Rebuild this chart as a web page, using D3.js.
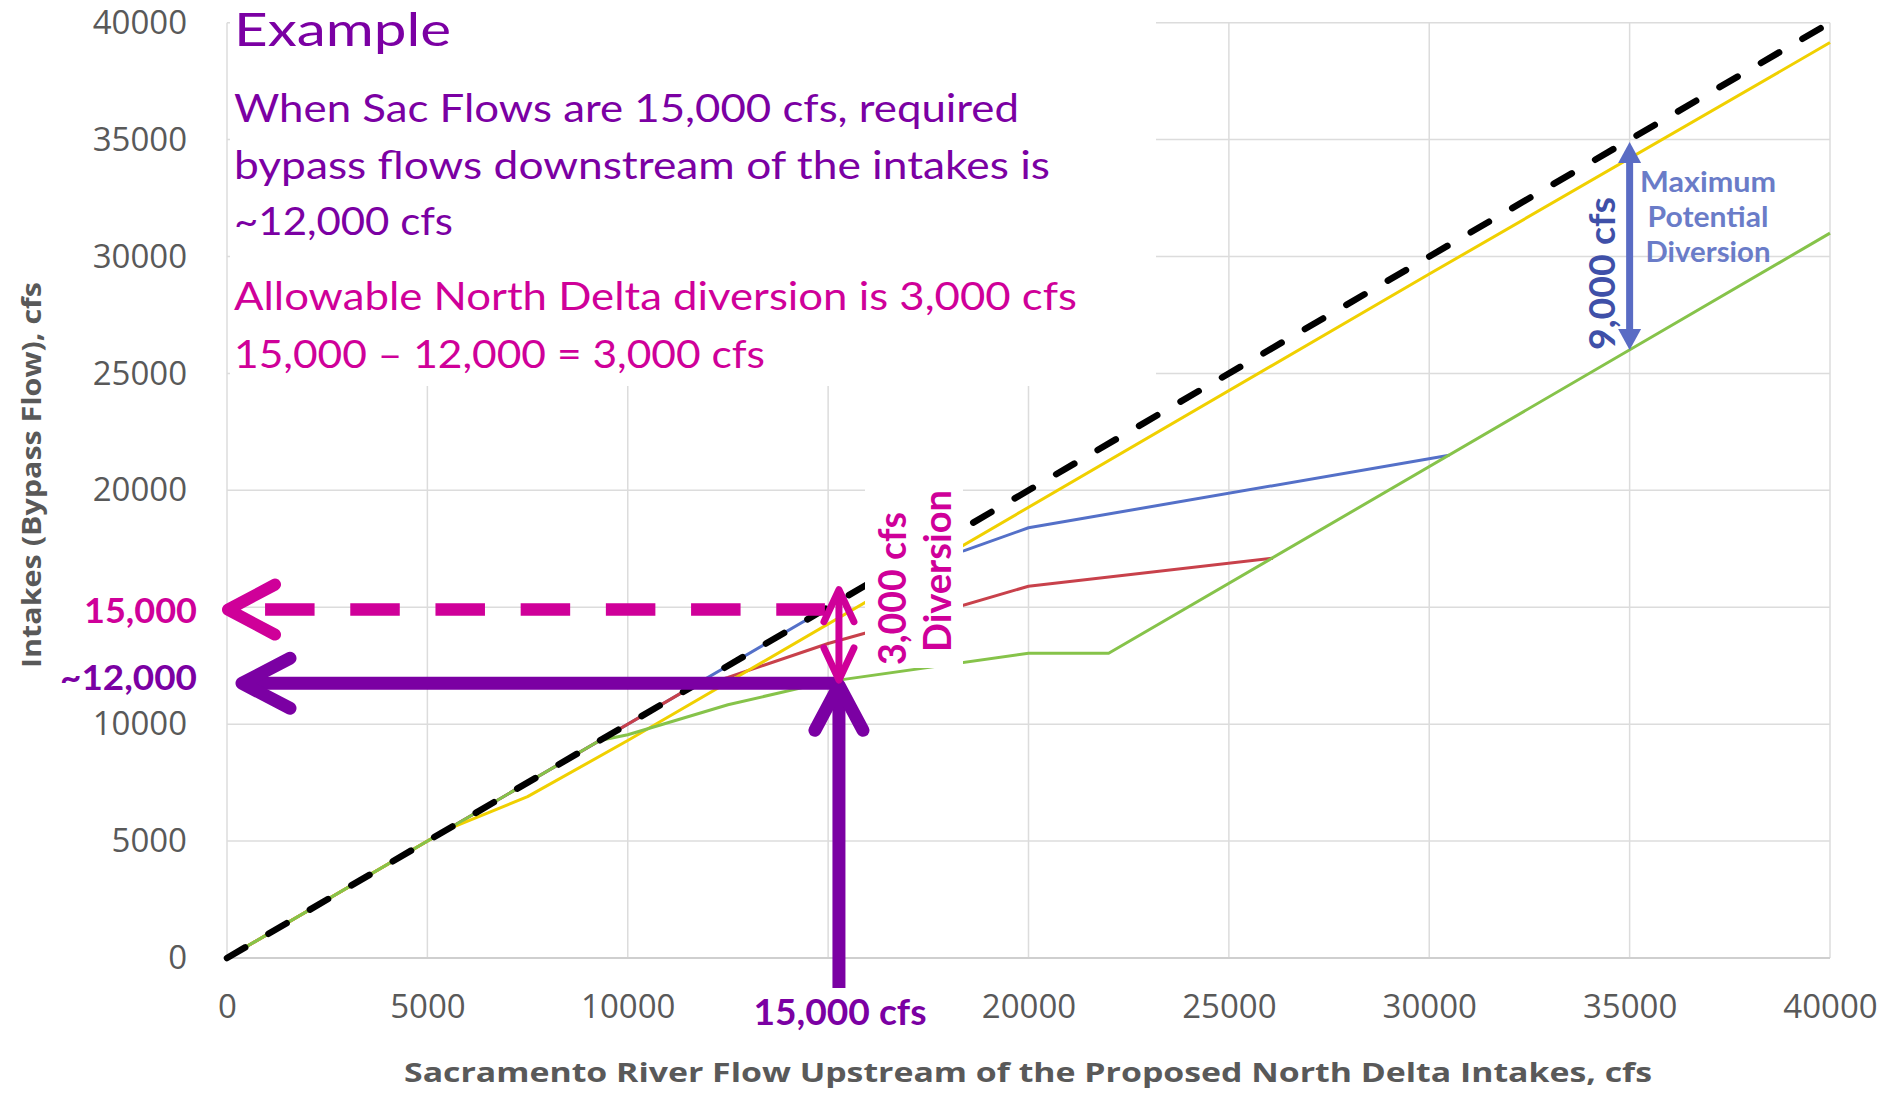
<!DOCTYPE html>
<html><head><meta charset="utf-8">
<script src="https://cdn.jsdelivr.net/npm/d3@7"></script>
<style>html,body{margin:0;padding:0;background:#fff;} svg{display:block;}</style>
</head><body><svg id="c" width="1902" height="1094"></svg>
<script>
// ---------- data ----------
const xTicks = [0,5000,10000,15000,20000,25000,30000,35000,40000];
const yTicks = [0,5000,10000,15000,20000,25000,30000,35000,40000];
// tick labels shown (15000 is replaced by the annotation labels)
const xTickLabels = [0,5000,10000,20000,25000,30000,35000,40000];
const yTickLabels = [0,5000,10000,20000,25000,30000,35000,40000];
const diagonalSeries = [[0,0],[40000,40000]];
const blueSeries   = [[0,0],[16500,16500],[18400,17420],[20000,18400],[30500,21500]];
const redSeries    = [[0,0],[11500,11500],[12500,12000],[15000,13450],[17500,14650],[20000,15900],[26100,17100]];
const greenSeries  = [[0,0],[9300,9300],[10000,9550],[12500,10830],[15000,11820],[20000,13030],[22000,13030],[40000,31000]];
const yellowSeries = [[0,0],[5500,5500],[7500,6900],[10000,9300],[30000,29250],[40000,39150]];

const xTitle = "Sacramento River Flow Upstream of the Proposed North Delta Intakes, cfs";
const yTitle = "Intakes (Bypass Flow), cfs";
const noteTitle = "Example";
const noteLinesPurple = ["When Sac Flows are 15,000 cfs, required","bypass flows downstream of the intakes is","~12,000 cfs"];
const noteLinesMagenta = ["Allowable North Delta diversion is 3,000 cfs","15,000 \u2013 12,000 = 3,000 cfs"];
const sacFlowLabel = "15,000 cfs";
const flowLabel = "15,000";
const bypassLabel = "~12,000";
const divLabel = ["3,000 cfs","Diversion"];
const maxLabel = "9,000 cfs";
const maxText = ["Maximum","Potential","Diversion"];

// annotation values (cfs)
const sacFlow = 15270, bypassFlow = 11750, flowLevel = 14900;
const dashFrom = 950, dashTo = 14920;
const divTop = 15750, divBottom = 11890;
const maxX = 35000, maxTop = 34900, maxBottom = 26000;

// ---------- drawing ----------
const svg = d3.select("#c");
svg.append("rect").attr("width",1902).attr("height",1094).attr("fill","#fff");
const x = d3.scaleLinear().domain([0,40000]).range([227,1830]);
const y = d3.scaleLinear().domain([0,40000]).range([958,22.7]);

const PURPLE = "#7b00a3", MAGENTA = "#cf0099", GREY = "#595959";
const calibri = "Lato, 'Open Sans', sans-serif";

// gridlines
const grid = svg.append("g");
grid.selectAll(".v").data(xTicks).join("line")
  .attr("x1",d=>x(d)).attr("x2",d=>x(d)).attr("y1",y(40000)).attr("y2",y(0))
  .attr("stroke","#dcdcdc").attr("stroke-width",1.5);
grid.selectAll(".h").data(yTicks).join("line")
  .attr("x1",x(0)).attr("x2",x(40000)).attr("y1",d=>y(d)).attr("y2",d=>y(d))
  .attr("stroke",d=>d===0?"#cfcfcf":"#dcdcdc").attr("stroke-width",d=>d===0?2:1.5);

// axes
const ax = svg.append("g").attr("transform",`translate(0,${y(0)})`)
  .call(d3.axisBottom(x).tickValues(xTickLabels).tickSize(0).tickPadding(37).tickFormat(d3.format("d")));
const ay = svg.append("g").attr("transform",`translate(${x(0)},0)`)
  .call(d3.axisLeft(y).tickValues(yTickLabels).tickSize(0).tickPadding(40).tickFormat(d3.format("d")));
[ax,ay].forEach(g=>{
  g.select(".domain").remove();
  g.selectAll("text").attr("font-family","'Open Sans', sans-serif").attr("font-size",33).attr("fill",GREY);
});

// titles
svg.append("text").attr("x",1028).attr("y",1082).attr("text-anchor","middle")
  .attr("font-family","'Open Sans', sans-serif").attr("font-weight","bold").attr("font-size",27)
  .attr("fill",GREY).attr("textLength",1248).attr("lengthAdjust","spacingAndGlyphs").text(xTitle);
svg.append("text").attr("transform","translate(41,475) rotate(-90)").attr("text-anchor","middle")
  .attr("font-family","'Open Sans', sans-serif").attr("font-weight","bold").attr("font-size",27)
  .attr("fill",GREY).attr("textLength",386).attr("lengthAdjust","spacingAndGlyphs").text(yTitle);

// series lines
const line = d3.line().x(d=>x(d[0])).y(d=>y(d[1]));
const plot = svg.append("g").attr("fill","none").attr("stroke-linejoin","round");
plot.append("path").datum(blueSeries).attr("d",line).attr("stroke","#5470c8").attr("stroke-width",3);
plot.append("path").datum(redSeries).attr("d",line).attr("stroke","#c8414b").attr("stroke-width",3);
plot.append("path").datum(yellowSeries).attr("d",line).attr("stroke","#f0d000").attr("stroke-width",3);
plot.append("path").datum(greenSeries).attr("d",line).attr("stroke","#86c34a").attr("stroke-width",3);
plot.append("path").datum(diagonalSeries).attr("d",line).attr("stroke","#000").attr("stroke-width",6.5)
  .attr("stroke-dasharray","21 27").attr("stroke-linecap","round");

// white boxes
svg.append("rect").attr("x",230).attr("y",0).attr("width",926).attr("height",386).attr("fill","#fff");
svg.append("rect").attr("x",865).attr("y",488).attr("width",98).attr("height",180).attr("fill","#fff");
svg.append("rect").attr("x",60).attr("y",585).attr("width",145).attr("height",50).attr("fill","#fff");

// note text
svg.append("text").attr("x",234).attr("y",46).attr("font-family",calibri).attr("font-size",46)
  .attr("fill",PURPLE).attr("textLength",217).attr("lengthAdjust","spacingAndGlyphs").text(noteTitle);
const purpleLens = [785,816,219], purpleY = [122,178.5,235];
noteLinesPurple.forEach((t,i)=>svg.append("text").attr("x",234).attr("y",purpleY[i])
  .attr("font-family",calibri).attr("font-size",38).attr("fill",PURPLE)
  .attr("textLength",purpleLens[i]).attr("lengthAdjust","spacingAndGlyphs").text(t));
const magLens = [843,531], magY = [310,368];
noteLinesMagenta.forEach((t,i)=>svg.append("text").attr("x",234).attr("y",magY[i])
  .attr("font-family",calibri).attr("font-size",38).attr("fill",MAGENTA)
  .attr("textLength",magLens[i]).attr("lengthAdjust","spacingAndGlyphs").text(t));

// magenta dashed level line with left chevron
const ann = svg.append("g").attr("fill","none").attr("stroke-linecap","round").attr("stroke-linejoin","round");
ann.append("line").attr("x1",x(dashFrom)).attr("x2",x(dashTo)).attr("y1",y(flowLevel)).attr("y2",y(flowLevel))
  .attr("stroke",MAGENTA).attr("stroke-width",12.5).attr("stroke-dasharray","49.5 35.7").attr("stroke-linecap","butt");
ann.append("path").attr("d",`M${x(0)+48},${y(flowLevel)-25} L${x(0)+1},${y(flowLevel)} L${x(0)+48},${y(flowLevel)+25}`)
  .attr("stroke",MAGENTA).attr("stroke-width",12);

// purple horizontal arrow
ann.append("line").attr("x1",x(0)+18).attr("x2",x(sacFlow)).attr("y1",y(bypassFlow)).attr("y2",y(bypassFlow))
  .attr("stroke",PURPLE).attr("stroke-width",13).attr("stroke-linecap","butt");
ann.append("path").attr("d",`M${x(0)+63},${y(bypassFlow)-25} L${x(0)+15},${y(bypassFlow)} L${x(0)+63},${y(bypassFlow)+25}`)
  .attr("stroke",PURPLE).attr("stroke-width",13);
// purple vertical arrow
ann.append("line").attr("x1",x(sacFlow)).attr("x2",x(sacFlow)).attr("y1",y(bypassFlow)+4).attr("y2",988)
  .attr("stroke",PURPLE).attr("stroke-width",13).attr("stroke-linecap","butt");
ann.append("path").attr("d",`M${x(sacFlow)-24},${y(bypassFlow)+47} L${x(sacFlow)},${y(bypassFlow)+2} L${x(sacFlow)+24},${y(bypassFlow)+47}`)
  .attr("stroke",PURPLE).attr("stroke-width",13);

// magenta double arrow
ann.append("line").attr("x1",x(sacFlow)).attr("x2",x(sacFlow)).attr("y1",y(divTop)+2).attr("y2",y(divBottom)-2)
  .attr("stroke",MAGENTA).attr("stroke-width",7);
ann.append("path").attr("d",`M${x(sacFlow)-15},${y(divTop)+32} L${x(sacFlow)},${y(divTop)} L${x(sacFlow)+15},${y(divTop)+32}`)
  .attr("stroke",MAGENTA).attr("stroke-width",7);
ann.append("path").attr("d",`M${x(sacFlow)-15},${y(divBottom)-32} L${x(sacFlow)},${y(divBottom)} L${x(sacFlow)+15},${y(divBottom)-32}`)
  .attr("stroke",MAGENTA).attr("stroke-width",7);

// blue max diversion arrow
const bx = x(maxX), bt = y(maxTop), bb = y(maxBottom);
svg.append("line").attr("x1",bx).attr("x2",bx).attr("y1",bt+15).attr("y2",bb-15).attr("stroke","#5a6cc4").attr("stroke-width",7);
svg.append("path").attr("d",`M${bx},${bt} L${bx-11.5},${bt+21} L${bx+11.5},${bt+21} Z`).attr("fill","#5a6cc4");
svg.append("path").attr("d",`M${bx},${bb} L${bx-11.5},${bb-21} L${bx+11.5},${bb-21} Z`).attr("fill","#5a6cc4");

// labels
svg.append("text").attr("x",197).attr("y",623).attr("text-anchor","end").attr("font-family",calibri)
  .attr("font-weight","bold").attr("font-size",35).attr("fill",MAGENTA)
  .attr("textLength",113).attr("lengthAdjust","spacingAndGlyphs").text(flowLabel);
svg.append("text").attr("x",197).attr("y",690).attr("text-anchor","end").attr("font-family",calibri)
  .attr("font-weight","bold").attr("font-size",35).attr("fill",PURPLE)
  .attr("textLength",137).attr("lengthAdjust","spacingAndGlyphs").text(bypassLabel);
svg.append("text").attr("x",840).attr("y",1025).attr("text-anchor","middle").attr("font-family",calibri)
  .attr("font-weight","bold").attr("font-size",36).attr("fill",PURPLE)
  .attr("textLength",173).attr("lengthAdjust","spacingAndGlyphs").text(sacFlowLabel);

svg.append("text").attr("transform","translate(906,665) rotate(-90)").attr("font-family",calibri)
  .attr("font-weight","bold").attr("font-size",38).attr("fill",MAGENTA)
  .attr("textLength",153).attr("lengthAdjust","spacingAndGlyphs").text(divLabel[0]);
svg.append("text").attr("transform","translate(951,652) rotate(-90)").attr("font-family",calibri)
  .attr("font-weight","bold").attr("font-size",38).attr("fill",MAGENTA)
  .attr("textLength",162).attr("lengthAdjust","spacingAndGlyphs").text(divLabel[1]);

svg.append("text").attr("transform","translate(1615,350) rotate(-90)").attr("font-family",calibri)
  .attr("font-weight","bold").attr("font-size",37).attr("fill","#3f50a8")
  .attr("textLength",153).attr("lengthAdjust","spacingAndGlyphs").text(maxLabel);
const maxLens = [136,121,125], maxY = [191.5,226.5,261.5];
maxText.forEach((t,i)=>svg.append("text").attr("x",1708).attr("y",maxY[i]).attr("text-anchor","middle")
  .attr("font-family",calibri).attr("font-weight","bold").attr("font-size",29).attr("fill","#6a7cc8")
  .attr("textLength",maxLens[i]).attr("lengthAdjust","spacingAndGlyphs").text(t));
</script></body></html>
